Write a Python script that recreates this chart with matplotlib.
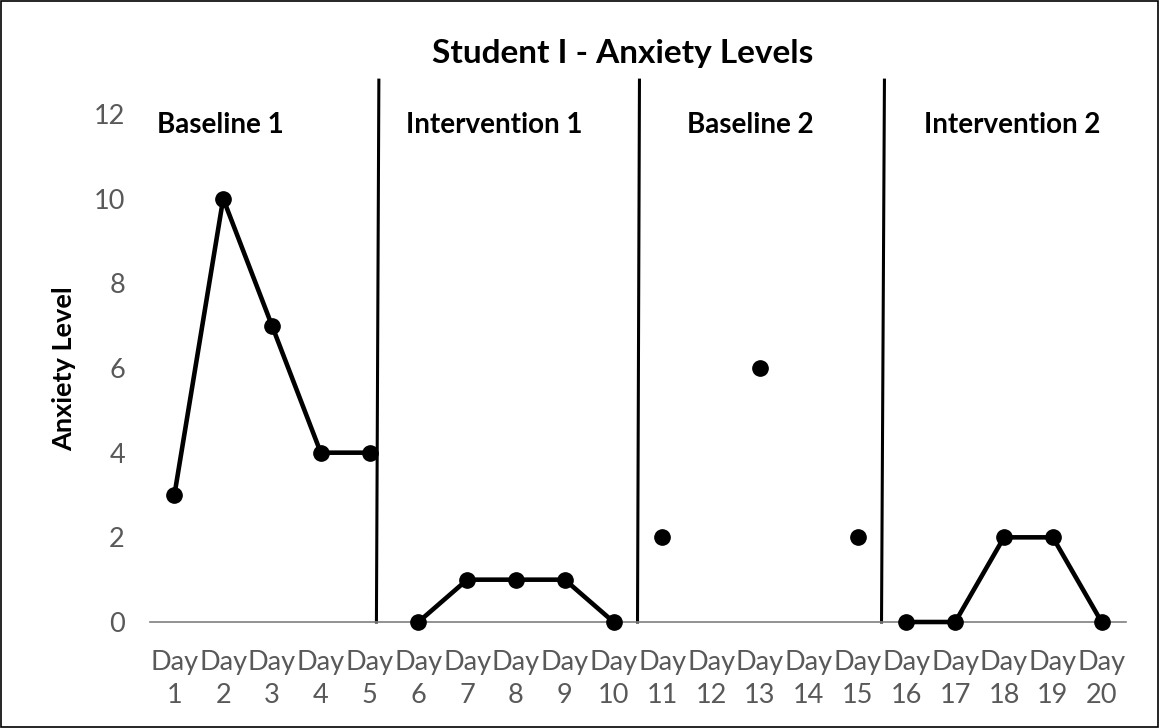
import numpy as np
import matplotlib.pyplot as plt

plt.rcParams['font.family'] = ['Lato', 'DejaVu Sans']

days = [f'Day\n{i}' for i in range(1, 21)]
phases = ['Baseline 1', 'Intervention 1', 'Baseline 2', 'Intervention 2']
baseline1 = [3, 10, 7, 4, 4]
intervention1 = [0, 1, 1, 1, 0]
baseline2 = [2, np.nan, 6, np.nan, 2]
intervention2 = [0, 0, 2, 2, 0]
series = [baseline1, intervention1, baseline2, intervention2]

# phase change lines (bottom, top) in category units
phase_lines = [(5.14, 5.19), (10.49, 10.53), (15.49, 15.55)]
label_x = [0.65, 5.75, 11.51, 16.37]

fig = plt.figure(figsize=(11.6, 7.28), dpi=100)
ax = fig.add_axes([0.1293, 0.1456, 0.8414, 0.6978])

x = np.arange(1, 21)
for k, vals in enumerate(series):
    ax.plot(x[k*5:(k+1)*5], vals, color='black', lw=3.3, marker='o',
            markersize=11, clip_on=False, zorder=3)

for x0, x1 in phase_lines:
    ax.plot([x0, x1], [0, 12.8], color='black', lw=2.2, clip_on=False)

ax.set_xlim(0.5, 20.5)
ax.set_ylim(0, 12)
ax.set_yticks(range(0, 13, 2))
ax.set_xticks(x)
ax.set_xticklabels(days, linespacing=1.4)
ax.tick_params(axis='both', length=0, colors='#595959', labelsize=19.5)
ax.tick_params(axis='x', pad=20)
ax.tick_params(axis='y', pad=18)
for s in ['top', 'right', 'left']:
    ax.spines[s].set_visible(False)
ax.spines['bottom'].set_color('#7f7f7f')
ax.spines['bottom'].set_linewidth(1.2)

for lx, name in zip(label_x, phases):
    ax.text(lx, 11.56, name, fontsize=20, fontweight='bold', ha='left', va='baseline')

fig.text(0.055, 0.494, 'Anxiety Level', fontsize=19.5, fontweight='bold',
         rotation=90, ha='center', va='center')
fig.text(0.537, 0.927, 'Student I - Anxiety Levels', fontsize=24, fontweight='bold',
         ha='center', va='center')

fig.patches.append(plt.Rectangle((0.001, 0.001), 0.997, 0.997, transform=fig.transFigure,
                                 fill=False, edgecolor='black', lw=1.2))

fig.savefig('out.png', dpi=100)
